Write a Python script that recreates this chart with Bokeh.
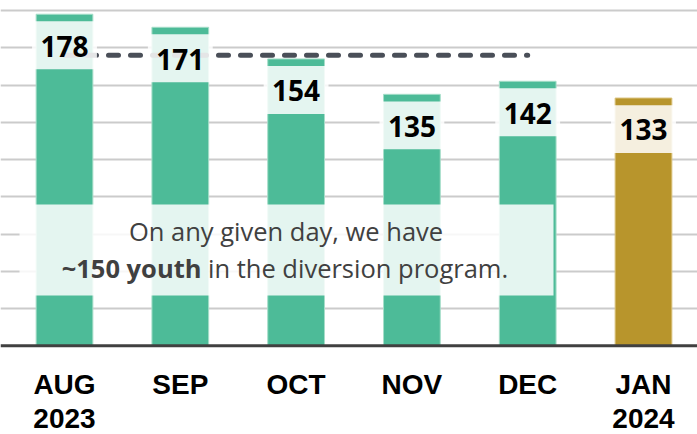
from bokeh.plotting import figure
from bokeh.models import Range1d, Grid, FixedTicker, Span, ColumnDataSource
from bokeh.core.properties import value
from bokeh.embed import file_html
from bokeh.resources import INLINE

# ---- data ----
months = ["AUG", "SEP", "OCT", "NOV", "DEC", "JAN"]
years = ["2023", "", "", "", "", "2024"]
youth = [178, 171, 154, 135, 142, 133]
grid_ticks = [20, 40, 60, 80, 100, 120, 140, 160, 180]
note_line1 = "On any given day, we have"
note_bold = "~150 youth"
note_rest = "in the diversion program."

# ---- styles ----
GREEN = "#4dbb98"
GREEN_EDGE = "#a6dec9"
GOLD = "#b8952c"
GOLD_EDGE = "#d9c27c"
highlight = "JAN"

xs = list(range(len(months)))
fill = [GOLD if m == highlight else GREEN for m in months]
edge = [GOLD_EDGE if m == highlight else GREEN_EDGE for m in months]

W, H = 697, 434
p = figure(width=W, height=H, output_backend="svg", toolbar_location=None,
           x_axis_type=None, y_axis_type=None,
           x_range=Range1d(-0.5527, 5.4663), y_range=Range1d(-47.62, 185.37),
           min_border=0, outline_line_color=None)
p.background_fill_color = "white"
p.border_fill_color = "white"

p.add_layout(Grid(dimension=1, ticker=FixedTicker(ticks=grid_ticks),
                  grid_line_color="#cbcbcb", grid_line_width=2))

src = ColumnDataSource(dict(x=xs, top=youth, fill=fill, edge=edge,
                            lab=[str(v) for v in youth],
                            band_l=[x - 0.28 for x in xs],
                            band_r=[x + 0.28 for x in xs],
                            band_top=[v - 3.8 for v in youth],
                            band_bot=[v - 29.5 for v in youth],
                            lab_y=[v - 17.1 for v in youth]))

p.vbar(x="x", top="top", bottom=0, width=0.49, source=src,
       fill_color="fill", line_color="edge", line_width=1)

# average line of Aug-Dec
avg = sum(youth[:5]) / 5
p.line(x=[xs[0], xs[4]], y=[avg, avg], line_color="#4a4f58", line_width=5,
       line_dash="10 12", line_cap="round")

# label bands
p.quad(left="band_l", right="band_r", top="band_top", bottom="band_bot",
       source=src, fill_color="white", fill_alpha=0.85, line_color=None)
p.text(x="x", y="lab_y", text="lab", source=src, text_align="center",
       text_baseline="middle", text_font=value("Open Sans"),
       text_font_style="bold", text_font_size="28px", text_color="black")

# annotation box
p.quad(left=[-0.3886], right=[4.2228], top=[75.85], bottom=[27.0],
       fill_color="white", fill_alpha=0.85, line_color=None)
p.text(x=[1.913], y=[61.5], text=[note_line1], text_align="center",
       text_baseline="middle", text_font=value("Open Sans"),
       text_font_size="25.5px", text_color="#404040")
p.text(x=[1.183], y=[41.8], text=[note_bold], text_align="right",
       text_baseline="middle", text_font=value("Open Sans"),
       text_font_style="bold", text_font_size="25.5px", text_color="#404040")
p.text(x=[1.239], y=[41.8], text=[note_rest], text_align="left",
       text_baseline="middle", text_font=value("Open Sans"),
       text_font_size="25.5px", text_color="#404040")

# baseline
p.add_layout(Span(location=0, dimension="width", line_color="#404040", line_width=3))

# category labels
p.text(x=xs, y=[-20.6] * len(xs), text=months, text_align="center",
       text_baseline="middle", text_font=value("Liberation Sans"),
       text_font_style="bold", text_font_size="28px", text_color="black")
p.text(x=xs, y=[-38.9] * len(xs), text=years, text_align="center",
       text_baseline="middle", text_font=value("Liberation Sans"),
       text_font_style="bold", text_font_size="28px", text_color="black")

open("out.html", "w").write(file_html(p, INLINE))
